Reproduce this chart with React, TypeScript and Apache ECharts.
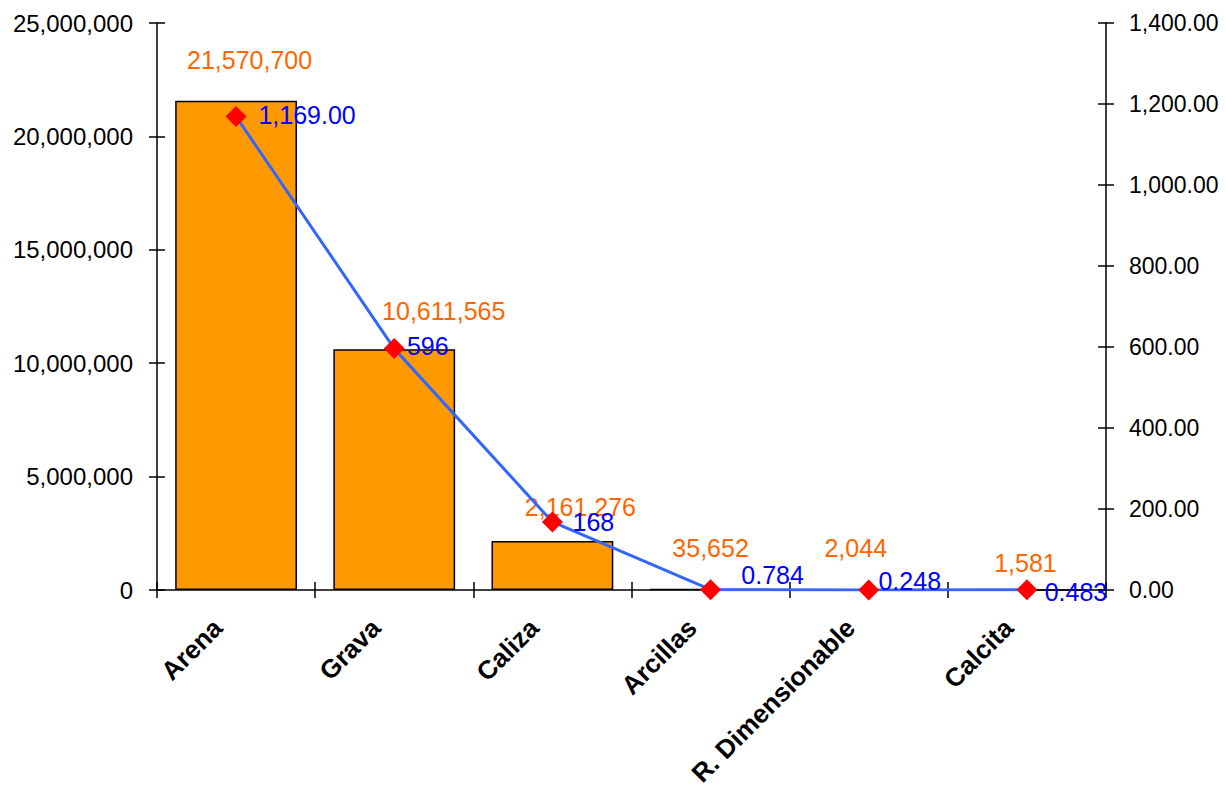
import React, { useEffect, useRef } from "react";
import * as echarts from "echarts";

const categories = ["Arena", "Grava", "Caliza", "Arcillas", "R. Dimensionable", "Calcita"];
const barValues = [21570700, 10611565, 2161276, 35652, 2044, 1581];
const lineValues = [1169, 596, 168, 0.784, 0.248, 0.483];
const lineLabels = ["1,169.00", "596", "168", "0.784", "0.248", "0.483"];
const leftTicks = { min: 0, max: 25000000, interval: 5000000 };
const rightTicks = { min: 0, max: 1400, interval: 200 };

// label layout (pixel nudges, not data)
const barLabelOffsets = [[13.5, -28.5], [49.5, -26], [28, -21.5], [0, -28], [-13, -29], [-1.5, -14]];
const lineLabelOffsets = [[71, -2], [33.5, -3], [41, 0], [62, -15], [41, -9], [49, 2]];

const FONT = "Liberation Sans, Arial, sans-serif";

const fmtInt = (v: number) => Math.round(v).toLocaleString("en-US");
const fmt2 = (v: number) =>
  v.toLocaleString("en-US", { minimumFractionDigits: 2, maximumFractionDigits: 2 });

export default function App() {
  const ref = useRef<HTMLDivElement>(null);
  useEffect(() => {
    if (!ref.current) return;
    const chart = echarts.init(ref.current, undefined, { renderer: "svg" });
    const axisLine = { show: true, lineStyle: { color: "#000", width: 1.5 } };
    const tickOut = { show: true, length: 8, lineStyle: { color: "#000", width: 1.5 } };
    const tickIn = { show: true, inside: true, length: 8, lineStyle: { color: "#000", width: 1.5 } };
    const tickLabel = { color: "#000", fontSize: 23, fontFamily: FONT };
    chart.setOption({
      animation: false,
      backgroundColor: "#fff",
      grid: { left: 157, right: 120, top: 23, bottom: 198, outerBoundsMode: "none", containLabel: false },
      xAxis: [
        {
          type: "category",
          data: categories,
          position: "bottom",
          axisLine,
          axisTick: tickOut,
          axisLabel: {
            ...tickLabel,
            fontSize: 26,
            fontWeight: "bold",
            rotate: 45,
            margin: 15,
            interval: 0,
            padding: [0, 26, 0, 0],
          },
        },
        {
          type: "category",
          data: categories,
          position: "bottom",
          axisLine: { show: false },
          axisTick: tickIn,
          axisLabel: { show: false },
        },
      ],
      yAxis: [
        {
          type: "value",
          position: "left",
          ...leftTicks,
          axisLine,
          axisTick: tickOut,
          splitLine: { show: false },
          axisLabel: { ...tickLabel, fontSize: 24, margin: 24, formatter: (v: number) => fmtInt(v) },
        },
        {
          type: "value",
          position: "right",
          ...rightTicks,
          axisLine,
          axisTick: tickOut,
          splitLine: { show: false },
          axisLabel: { ...tickLabel, margin: 23, formatter: (v: number) => fmt2(v) },
        },
        {
          type: "value",
          position: "left",
          ...leftTicks,
          axisLine: { show: false },
          axisTick: tickIn,
          splitLine: { show: false },
          axisLabel: { show: false },
        },
        {
          type: "value",
          position: "right",
          ...rightTicks,
          axisLine: { show: false },
          axisTick: tickIn,
          splitLine: { show: false },
          axisLabel: { show: false },
        },
      ],
      series: [
        {
          type: "bar",
          xAxisIndex: 0,
          yAxisIndex: 0,
          barWidth: "77%",
          itemStyle: { color: "#FF9900", borderColor: "#000", borderWidth: 1.5 },
          label: {
            show: true,
            position: "top",
            distance: 0,
            color: "#FF6600",
            fontSize: 25,
            fontFamily: FONT,
            formatter: (p: any) => fmtInt(p.value),
          },
          data: barValues.map((v, i) => ({ value: v, label: { offset: barLabelOffsets[i] } })),
        },
        {
          type: "line",
          xAxisIndex: 0,
          yAxisIndex: 1,
          symbol: "diamond",
          symbolSize: 21,
          itemStyle: { color: "#FF0000" },
          lineStyle: { color: "#3366FF", width: 3 },
          label: {
            show: true,
            position: "inside",
            color: "#0000FF",
            fontSize: 25,
            fontFamily: FONT,
            formatter: (p: any) => lineLabels[p.dataIndex],
          },
          data: lineValues.map((v, i) => ({ value: v, label: { offset: lineLabelOffsets[i] } })),
          z: 3,
        },
      ],
    });
    return () => chart.dispose();
  }, []);
  return (
    <div
      ref={ref}
      style={{ position: "fixed", left: 0, top: 0, width: 1226, height: 788, background: "#fff" }}
    />
  );
}
